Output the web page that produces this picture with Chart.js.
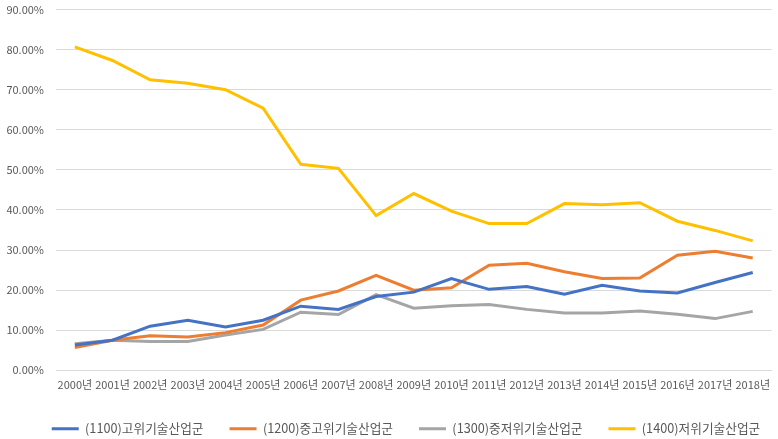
<!DOCTYPE html>
<html>
<head>
<meta charset="utf-8">
<script src="https://cdn.jsdelivr.net/npm/chart.js@4/dist/chart.umd.min.js"></script>
<style>
  html, body { margin: 0; padding: 0; background: #fff; overflow: hidden; }
  #wrap { width: 778px; height: 448px; position: absolute; left: 0; top: -9px; }
</style>
</head>
<body>
<div id="wrap"><canvas id="c"></canvas></div>
<script>
// Years on the x axis
const years = ['2000년','2001년','2002년','2003년','2004년','2005년','2006년','2007년','2008년','2009년',
               '2010년','2011년','2012년','2013년','2014년','2015년','2016년','2017년','2018년'];

// Shares by technology group (%)
const highTech    = [6.3, 7.5, 11.0, 12.5, 10.8, 12.5, 16.0, 15.2, 18.4, 19.5, 22.9, 20.2, 20.9, 19.0, 21.2, 19.8, 19.3, 21.9, 24.4];
const midHighTech = [5.7, 7.5, 8.6, 8.3, 9.4, 11.3, 17.5, 19.8, 23.7, 20.0, 20.6, 26.2, 26.7, 24.6, 22.9, 23.0, 28.7, 29.7, 28.0];
const midLowTech  = [6.6, 7.5, 7.2, 7.2, 8.8, 10.2, 14.5, 13.9, 18.9, 15.5, 16.1, 16.4, 15.2, 14.3, 14.3, 14.8, 14.0, 12.9, 14.7];
const lowTech     = [80.7, 77.3, 72.5, 71.6, 70.0, 65.4, 51.4, 50.4, 38.6, 44.1, 39.7, 36.6, 36.6, 41.6, 41.3, 41.8, 37.2, 34.9, 32.3];

const seriesNames = ['(1100)고위기술산업군','(1200)중고위기술산업군','(1300)중저위기술산업군','(1400)저위기술산업군'];
const seriesColors = ['#4472C4','#ED7D31','#A5A5A5','#FFC000'];

const FONT = '"Noto Sans CJK KR", "Noto Sans", sans-serif';

const mk = (i, data) => ({
  label: seriesNames[i],
  data: data,
  borderColor: seriesColors[i],
  backgroundColor: seriesColors[i],
  borderWidth: 3,
  pointRadius: 0,
  tension: 0,
  fill: false
});

// Nudge the legend row a little to the right of centre
const legendShift = {
  id: 'legendShift',
  afterLayout(chart) {
    const lg = chart.legend;
    if (lg) { lg.left += 17; lg.right += 17; }
  }
};

new Chart(document.getElementById('c'), {
  type: 'line',
  data: {
    labels: years,
    datasets: [mk(0, highTech), mk(1, midHighTech), mk(2, midLowTech), mk(3, lowTech)]
  },
  plugins: [legendShift],
  options: {
    responsive: true,
    maintainAspectRatio: false,
    animation: false,
    layout: { padding: { top: -5, right: 0, left: 0, bottom: -6 } },
    plugins: {
      tooltip: { enabled: false },
      legend: {
        position: 'bottom',
        labels: {
          font: { family: FONT, size: 12.7 },
          color: '#595959',
          boxWidth: 27,
          boxHeight: 3,
          padding: 26,
          generateLabels(chart) {
            return chart.data.datasets.map((ds, i) => ({
              text: ds.label,
              fillStyle: ds.borderColor,
              strokeStyle: ds.borderColor,
              lineWidth: 0,
              fontColor: '#595959',
              datasetIndex: i,
              hidden: false
            }));
          }
        }
      }
    },
    scales: {
      x: {
        offset: true,
        grid: { display: false, drawTicks: false },
        border: { display: true, color: '#D9D9D9', width: 1 },
        ticks: {
          font: { family: FONT, size: 11 },
          color: '#595959',
          maxRotation: 0,
          autoSkip: false,
          padding: 8
        },
        afterFit(scale) { scale.height = 26; }
      },
      y: {
        min: 0,
        max: 90,
        grid: { color: '#D9D9D9', drawTicks: false },
        border: { display: false },
        ticks: {
          stepSize: 10,
          font: { family: FONT, size: 11 },
          color: '#595959',
          padding: 12,
          callback: v => v.toFixed(2) + '%'
        },
        afterFit(scale) { scale.width = 56; }
      }
    }
  }
});
</script>
</body>
</html>
